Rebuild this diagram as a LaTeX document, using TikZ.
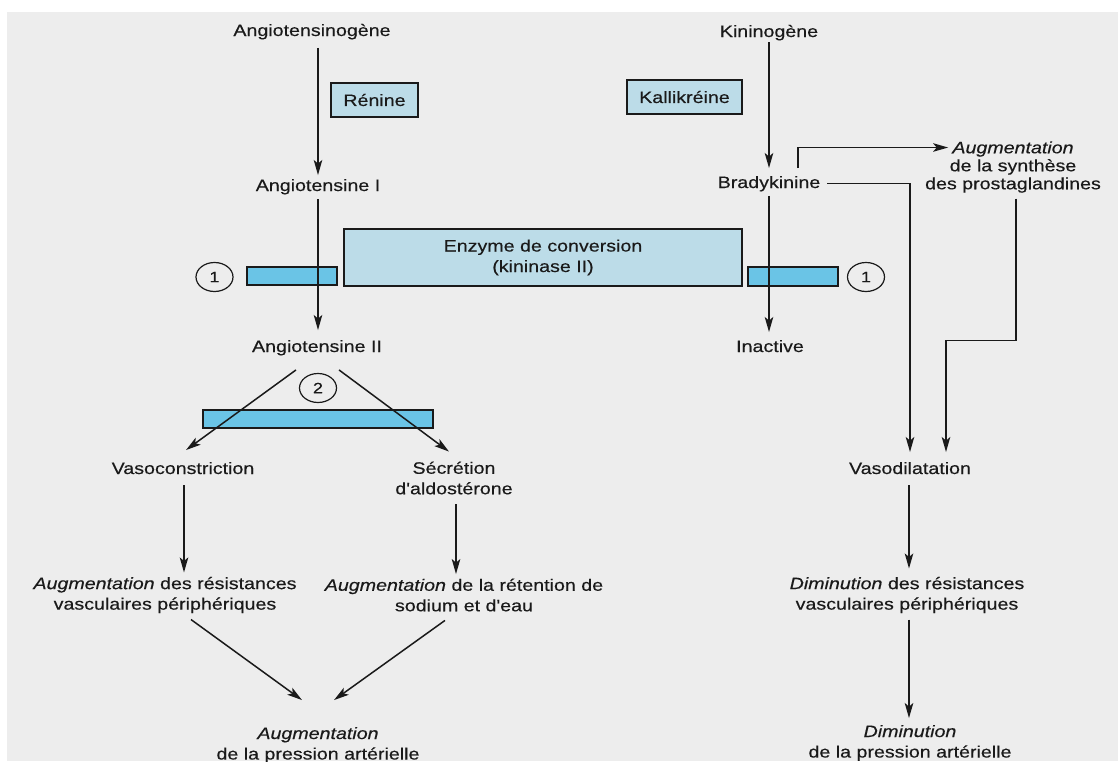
\documentclass[tikz,border=0pt]{standalone}
\usepackage{fontspec}
\newfontfamily\diagfont{Liberation Sans}[FakeStretch=1.19,FakeBold=0.35]
\usetikzlibrary{arrows.meta,shapes.geometric}
\definecolor{bg}{RGB}{237,237,237}
\definecolor{boxblue}{RGB}{188,220,232}
\definecolor{barblue}{RGB}{106,196,230}
\definecolor{ink}{RGB}{26,26,26}
\newcommand{\mainsize}{\diagfont\fontsize{16.5}{20.5}\selectfont}
\begin{document}
\begin{tikzpicture}[x=1pt,y=-1pt,
  txt/.style={inner sep=0pt, outer sep=0pt, text=ink, font=\mainsize, align=center},
  lbl/.style={txt, anchor=base},
  enzbox/.style={draw=ink, line width=1.3pt, fill=boxblue, inner sep=0pt, text=ink, font=\mainsize, align=center},
  barbox/.style={draw=ink, line width=1.3pt, fill=barblue, inner sep=0pt},
  num/.style={ellipse, draw=ink, line width=1.2pt, minimum width=37pt, minimum height=29pt, inner sep=0pt, text=ink, font=\diagfont\fontsize{15}{15}\selectfont},
  arr/.style={draw=ink, line width=1.5pt, -{Stealth[length=15pt,width=8.5pt,inset=3.5pt]}}
]
\useasboundingbox (0,0) rectangle (1118,761);
\fill[white] (0,0) rectangle (1118,761);
\fill[bg] (7,12) rectangle (1118,761);

% enzyme boxes
\node[enzbox, minimum width=87pt, minimum height=34pt] (ren) at (374.5,100) {Rénine};
\node[enzbox, minimum width=115pt, minimum height=34pt] (kal) at (684.5,97) {Kallikréine};
\node[enzbox, minimum width=398pt, minimum height=57pt] (enz) at (543,257.5) {Enzyme de conversion\\(kininase II)};

% blocking bars
\node[barbox, minimum width=90pt, minimum height=18pt] (barL) at (292,276) {};
\node[barbox, minimum width=90pt, minimum height=19pt] (barR) at (793,276.5) {};
\node[barbox, minimum width=230pt, minimum height=18pt] (bar2) at (318,419) {};

% numbered circles
\node[num] (c1L) at (214.5,277) {1};
\node[num] (c1R) at (866,277) {1};
\node[num] (c2) at (318,388) {2};

% text nodes
\node[lbl] (agen) at (312,36) {Angiotensinogène};
\node[lbl] (ang1) at (318,191) {Angiotensine I};
\node[lbl] (ang2) at (317,352) {Angiotensine II};
\node[lbl] (kinin) at (769,37) {Kininogène};
\node[lbl] (brady) at (769,188) {Bradykinine};
\node[lbl] (inact) at (770,352) {Inactive};
\node[lbl] (vasoc) at (183,474) {Vasoconstriction};
\node[lbl] (vasod) at (910,474) {Vasodilatation};
\node[txt] (secr) at (454,478) {Sécrétion\\d'aldostérone};
\node[txt, font=\diagfont\fontsize{16.5}{18}\selectfont] (prosta) at (1013,167) {\textit{Augmentation}\\de la synthèse\\des prostaglandines};
\node[txt] (augres) at (165,595) {\textit{Augmentation} des résistances\\vasculaires périphériques};
\node[txt] (augret) at (464,595) {\textit{Augmentation} de la rétention de\\sodium et d'eau};
\node[txt] (diminres) at (907,595) {\textit{Diminution} des résistances\\vasculaires périphériques};
\node[txt] (augpa) at (318,745) {\textit{Augmentation}\\de la pression artérielle};
\node[txt] (dimpa) at (910,743) {\textit{Diminution}\\de la pression artérielle};

% connectors, left pathway
\draw[arr, shorten <=8.5pt, shorten >=4pt] (agen.south -| ang1.north) -- (ang1.north);
\draw[arr, shorten <=5pt, shorten >=10pt] (ang1.south) -- (ang1.south |- ang2.north);
\draw[arr] ([xshift=-21pt,yshift=-14.5pt]ang2.south) -- ([xshift=3pt,yshift=12pt]vasoc.north);
\draw[arr] ([xshift=22pt,yshift=-14.5pt]ang2.south) -- ([xshift=-5pt,yshift=10pt]secr.north);
\draw[arr, shorten <=11pt, shorten >=4.5pt] ([xshift=1pt]vasoc.south) -- ([xshift=1pt]vasoc.south |- augres.north);
\draw[arr, shorten <=10pt, shorten >=4.5pt] ([xshift=2pt]secr.south) -- ([xshift=2pt]secr.south |- augret.north);
\draw[arr] ([xshift=26pt,yshift=-6.5pt]augres.south) -- ([xshift=-16pt,yshift=27pt]augpa.north);
\draw[arr] ([xshift=-19pt,yshift=-9pt]augret.south) -- ([xshift=16pt,yshift=27pt]augpa.north);

% connectors, right pathway
\draw[arr, shorten <=2pt, shorten >=8pt] (kinin.south) -- (brady.north);
\draw[arr, shorten <=4.5pt, shorten >=8pt] (brady.south) -- (brady.south |- inact.north);
\draw[arr] ([xshift=29pt,yshift=8pt]brady.north) |- ([xshift=23pt,yshift=19.5pt]prosta.west);
\draw[arr, shorten <=7pt, shorten >=10pt] (brady.east) -| (vasod.north);
\draw[arr, shorten <=6pt, shorten >=10pt] ([xshift=3pt]prosta.south) -- ++(0,148) -| ([xshift=36pt]vasod.north);
\draw[arr, shorten <=11pt, shorten >=8.5pt] ([xshift=-1pt]vasod.south) -- ([xshift=-1pt]vasod.south |- diminres.north);
\draw[arr, shorten <=6.5pt, shorten >=7pt] ([xshift=2pt]diminres.south) -- ([xshift=2pt]diminres.south |- dimpa.north);
\end{tikzpicture}
\end{document}
